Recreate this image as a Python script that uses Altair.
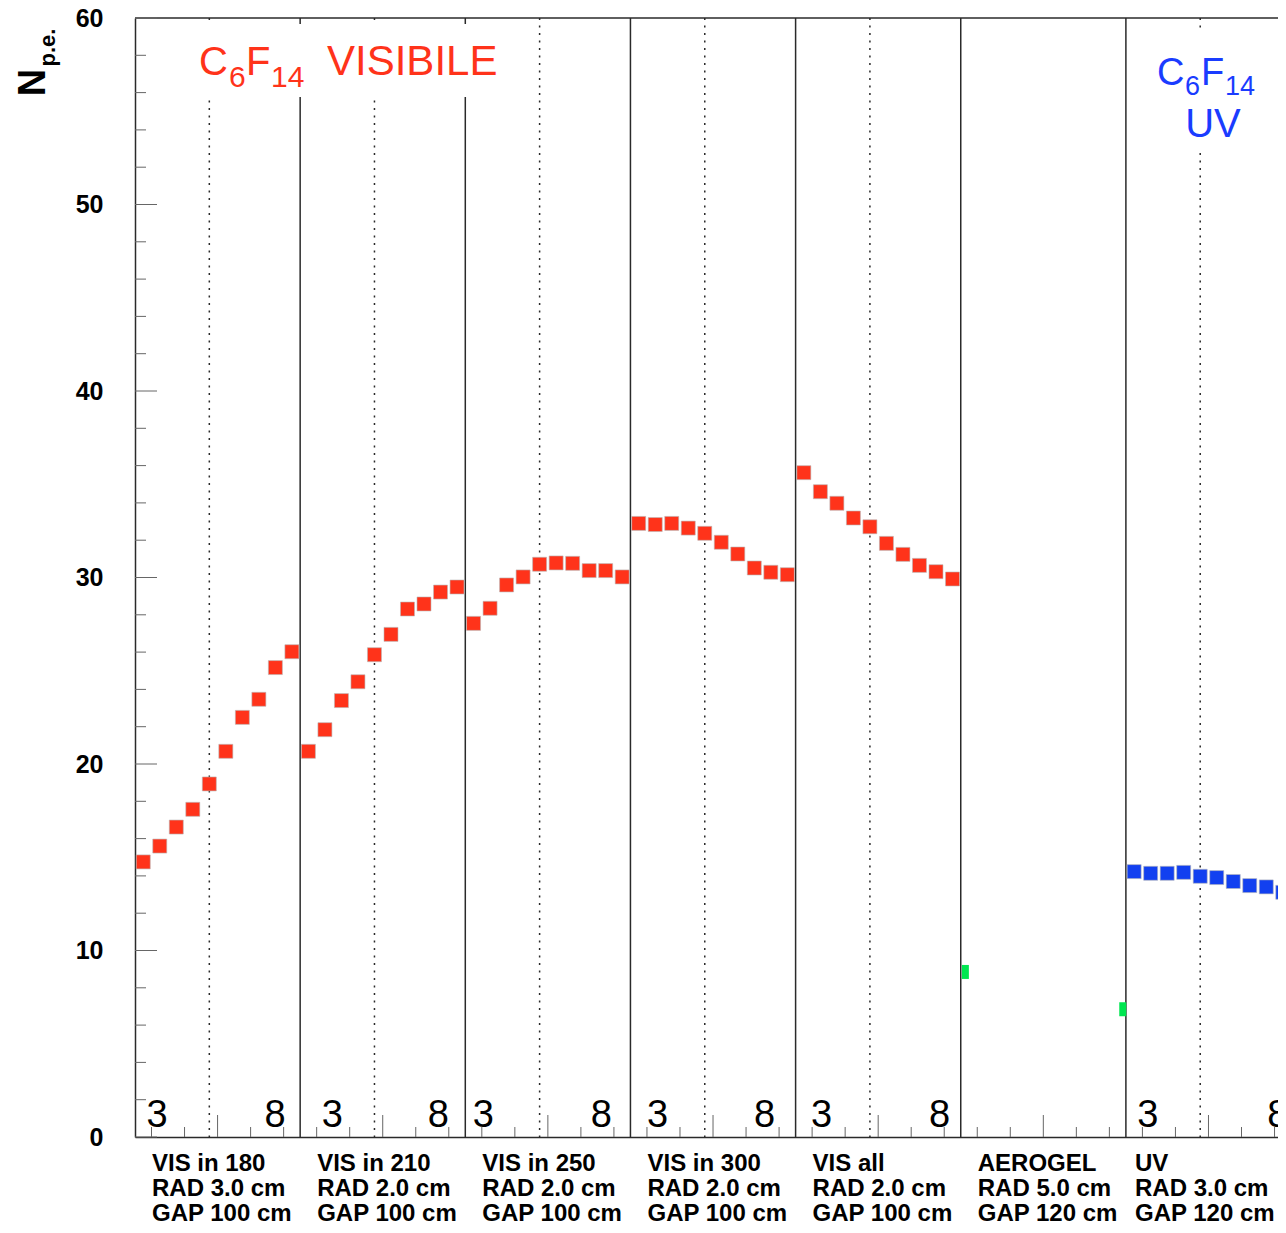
import altair as alt
import pandas as pd

# ---------------- data ----------------
vis180 = [14.75, 15.60, 16.62, 17.57, 18.93, 20.68, 22.50, 23.47, 25.17, 26.02]
vis210 = [20.68, 21.84, 23.40, 24.41, 25.86, 26.95, 28.31, 28.58, 29.22, 29.49]
vis250 = [27.54, 28.35, 29.60, 30.03, 30.71, 30.78, 30.76, 30.37, 30.37, 30.03]
vis300 = [32.90, 32.84, 32.90, 32.65, 32.37, 31.89, 31.26, 30.51, 30.28, 30.15]
visall = [35.62, 34.60, 33.98, 33.19, 32.72, 31.83, 31.24, 30.65, 30.31, 29.92]
uv = [14.23, 14.14, 14.14, 14.19, 13.98, 13.91, 13.70, 13.48, 13.41, 13.12]

series_values = [vis180, vis210, vis250, vis300, visall, uv]
series_panels = [0, 1, 2, 3, 4, 6]
series_kind = ["VIS", "VIS", "VIS", "VIS", "VIS", "UV"]

aerogel_x = [50.28, 59.81]
aerogel_y = [8.85, 6.85]

panel_line1 = ["VIS in 180", "VIS in 210", "VIS in 250", "VIS in 300", "VIS all", "AEROGEL", "UV"]
panel_line2 = ["RAD 3.0 cm", "RAD 2.0 cm", "RAD 2.0 cm", "RAD 2.0 cm", "RAD 2.0 cm", "RAD 5.0 cm", "RAD 3.0 cm"]
panel_line3 = ["GAP 100 cm", "GAP 100 cm", "GAP 100 cm", "GAP 100 cm", "GAP 100 cm", "GAP 120 cm", "GAP 120 cm"]
label_off = [1.03, 1.03, 1.03, 1.03, 1.03, 1.03, 0.55]

digit_panels = [0, 1, 2, 3, 4, 6]
digit3_off = [1.33, 1.94, 1.09, 1.64, 1.57, 1.33]
digit8_off = [8.48, 8.36, 8.24, 8.12, 8.72, 9.20]

boundaries = [10, 20, 30, 40, 50, 60]
dotted = [4.5, 14.5, 24.5, 34.5, 44.5, 64.5]

# ---------------- tables ----------------
rows = []
for vals, p, k in zip(series_values, series_panels, series_kind):
    for i, v in enumerate(vals):
        rows.append({"x": p * 10 + i + 0.5, "y": v, "kind": k})
pts = pd.DataFrame(rows)
aero = pd.DataFrame({"x": aerogel_x, "y": aerogel_y})
labels_df = pd.DataFrame({
    "x": [p * 10 + o for p, o in zip(range(7), label_off)],
    "l1": panel_line1, "l2": panel_line2, "l3": panel_line3,
})
dig = pd.DataFrame({
    "x": [p * 10 + o for p, o in zip(digit_panels, digit3_off)]
         + [p * 10 + o for p, o in zip(digit_panels, digit8_off)],
    "t": ["3"] * len(digit_panels) + ["8"] * len(digit_panels),
})
bnd = pd.DataFrame({"x": boundaries})
dot = pd.DataFrame({"x": dotted})
short_ticks = pd.DataFrame({"x": [p * 10 + o for p in range(7) for o in (1, 3, 7, 9)]})
long_ticks = pd.DataFrame({"x": [p * 10 + 5 for p in range(7)]})
ymin_ticks = pd.DataFrame({"y": [v for v in range(0, 61, 2) if v % 10 != 0]})
ymaj_ticks = pd.DataFrame({"y": list(range(0, 61, 10))})
one = pd.DataFrame({"k": [0]})

W, H = 1143, 1119
XMAX = 69.21
FONT = "Liberation Sans"
RED = "#ff331a"
BLUE = "#1240f0"
TBLUE = "#1a3cff"
GREEN = "#00e650"
LINE = "#2a2a2a"

xsc = alt.Scale(domain=[0, XMAX], nice=False, zero=False)
ysc = alt.Scale(domain=[0, 60], nice=False, zero=False)
xaxis = alt.Axis(labels=False, ticks=False, tickSize=0, grid=False, title=None,
                 domain=True, domainColor=LINE, domainWidth=1.5)
yaxis = alt.Axis(values=[0, 10, 20, 30, 40, 50, 60], ticks=False, tickSize=0, grid=False,
                 title=None, domain=True, domainColor=LINE, domainWidth=1.5,
                 labelFont=FONT, labelFontWeight="bold", labelFontSize=25,
                 labelColor="black", labelPadding=32)


def X(f="x"):
    return alt.X(f"{f}:Q", scale=xsc, axis=xaxis)


def Y(f="y"):
    return alt.Y(f"{f}:Q", scale=ysc, axis=yaxis)


def txt(t, px, py, size, color, align="left", weight="normal", angle=0):
    return alt.Chart(one).mark_text(
        text=t, align=align, baseline="alphabetic", fontSize=size, font=FONT,
        fontWeight=weight, color=color, angle=angle
    ).encode(x=alt.value(px), y=alt.value(py))


layers = []
# panel boundaries and dotted lines
layers.append(alt.Chart(bnd).mark_rule(color=LINE, strokeWidth=1.5).encode(
    x=X(), y=alt.value(0), y2=alt.value(H)))
layers.append(alt.Chart(dot).mark_rule(color=LINE, strokeWidth=1.5, strokeDash=[2, 5.5]).encode(
    x=X(), y=alt.value(0), y2=alt.value(H)))
# top frame
layers.append(alt.Chart(one).mark_rule(color=LINE, strokeWidth=1.5).encode(
    x=alt.value(0), x2=alt.value(W), y=alt.value(0)))
# y ticks (inward)
layers.append(alt.Chart(ymin_ticks).mark_rule(color="#666", strokeWidth=1).encode(
    y=Y(), x=alt.value(0), x2=alt.value(11)))
layers.append(alt.Chart(ymaj_ticks).mark_rule(color="#666", strokeWidth=1).encode(
    y=Y(), x=alt.value(0), x2=alt.value(22)))
# x ticks (inward)
layers.append(alt.Chart(short_ticks).mark_rule(color="#666", strokeWidth=1, clip=True).encode(
    x=X(), y=alt.value(H), y2=alt.value(H - 10)))
layers.append(alt.Chart(long_ticks).mark_rule(color="#666", strokeWidth=1, clip=True).encode(
    x=X(), y=alt.value(H), y2=alt.value(H - 22)))
# white boxes behind titles
layers.append(alt.Chart(one).mark_rect(color="white").encode(
    x=alt.value(45), x2=alt.value(385), y=alt.value(6), y2=alt.value(79)))
layers.append(alt.Chart(one).mark_rect(color="white").encode(
    x=alt.value(1005), x2=alt.value(W), y=alt.value(15), y2=alt.value(130)))
# data points
layers.append(alt.Chart(pts).mark_square(size=196, opacity=1, clip=True,
                                          stroke="#b8b8b8", strokeWidth=0.6).encode(
    x=X(), y=Y(),
    color=alt.Color("kind:N", scale=alt.Scale(domain=["VIS", "UV"], range=[RED, BLUE]), legend=None)))
layers.append(alt.Chart(aero).mark_point(
    shape="M-0.5,-1L0.5,-1L0.5,1L-0.5,1Z", size=196, filled=True, opacity=1, color=GREEN
).encode(x=X(), y=Y()))
# digit labels 3 / 8
layers.append(alt.Chart(dig).mark_text(
    fontSize=38, font=FONT, align="center", baseline="alphabetic", color="black", clip=True
).encode(x=X(), y=alt.value(1109), text="t:N"))
# panel descriptions under the axis
for col, py in (("l1", 1153), ("l2", 1178), ("l3", 1203)):
    layers.append(alt.Chart(labels_df).mark_text(
        fontSize=24, font=FONT, fontWeight="bold", align="left", baseline="alphabetic", color="black"
    ).encode(x=X(), y=alt.value(py), text=f"{col}:N"))
# red title
layers += [
    txt("C", 64, 57, 40, RED),
    txt("6", 94, 69, 30, RED),
    txt("F", 111, 57, 40, RED),
    txt("14", 136, 69, 30, RED),
    txt("VISIBILE", 192, 57, 42, RED),
]
# blue title
layers += [
    txt("C", 1022, 67, 38, TBLUE),
    txt("6", 1050, 77, 27, TBLUE),
    txt("F", 1066, 67, 38, TBLUE),
    txt("14", 1090, 77, 27, TBLUE),
    txt("UV", 1078, 119, 40, TBLUE, align="center"),
]
# y-axis title N_p.e.
layers += [
    txt("N", -90, 64.5, 38, "black", align="center", weight="bold", angle=270),
    txt("p.e.", -80, 29.5, 22, "black", align="center", weight="bold", angle=270),
]

chart = alt.layer(*layers).properties(
    width=W, height=H,
    autosize=alt.AutoSizeParams(type="none"),
    padding={"left": 127, "top": 10, "right": 0, "bottom": 88},
).configure_view(stroke="transparent")

chart.save("out.html", embed_options={"renderer": "svg", "actions": False})
